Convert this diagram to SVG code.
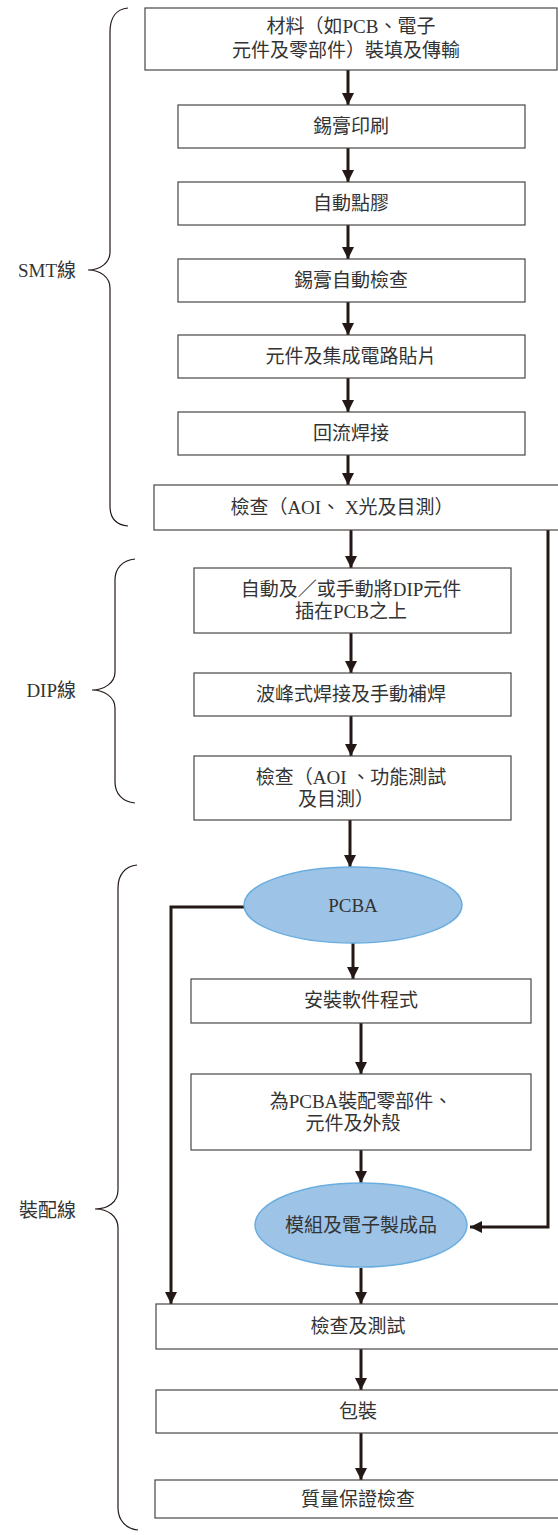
<svg xmlns="http://www.w3.org/2000/svg" width="558" height="1535" viewBox="0 0 558 1535">
<defs>
<marker id="ah" viewBox="0 0 10 10" refX="10" refY="5" markerWidth="4" markerHeight="4" orient="auto" markerUnits="strokeWidth">
<path d="M0,0 L10,5 L0,10 Z" fill="#231815"/>
</marker>
<style>
.box{fill:#fff;stroke:#4a4545;stroke-width:1.2}
.ell{fill:#9dc3e6;stroke:#6aaee0;stroke-width:1.5}
.t{font-family:"Liberation Serif","Noto Sans CJK TC",serif;font-size:19px;fill:#333;text-anchor:middle}
.lbl{font-family:"Liberation Serif","Noto Sans CJK TC",serif;font-size:19px;fill:#333;text-anchor:end}
.c{fill:none;stroke:#231815;stroke-width:3;marker-end:url(#ah)}
.br{fill:none;stroke:#231815;stroke-width:1.2}
</style>
</defs>
<rect width="558" height="1535" fill="#fff"/>
<g id="braces">
<path class="br" d="M128,8 C116,9 110,18 110,32 L110,252 C110,263 100,270 88,270 C100,270 110,277 110,288 L110,506 C110,518 116,525 128,526"/>
<text class="lbl" x="76" y="277">SMT線</text>
<path class="br" d="M135,559 C123,560 115,568 115,580 L115,672 C115,683 104,690 92,690 C104,690 115,697 115,708 L115,782 C115,794 123,802 135,803"/>
<text class="lbl" x="76" y="697">DIP線</text>
<path class="br" d="M137,865 C126,866 118,874 118,888 L118,1190 C118,1202 108,1209 95,1209 C108,1209 118,1216 118,1228 L118,1508 C118,1520 126,1529 138,1530"/>
<text class="lbl" x="76" y="1217">裝配線</text>
</g>
<g id="connectors">
<line class="c" x1="348" y1="70" x2="348" y2="105"/>
<line class="c" x1="348" y1="148" x2="348" y2="182"/>
<line class="c" x1="348" y1="225" x2="348" y2="259"/>
<line class="c" x1="348" y1="302" x2="348" y2="335"/>
<line class="c" x1="348" y1="378" x2="348" y2="412"/>
<line class="c" x1="348" y1="455" x2="348" y2="485"/>
<line class="c" x1="351" y1="530" x2="351" y2="568"/>
<line class="c" x1="351" y1="633" x2="351" y2="673"/>
<line class="c" x1="351" y1="716" x2="351" y2="756"/>
<line class="c" x1="350" y1="820" x2="350" y2="867"/>
<line class="c" x1="353" y1="943" x2="353" y2="979"/>
<line class="c" x1="361" y1="1023" x2="361" y2="1074"/>
<line class="c" x1="361" y1="1150" x2="361" y2="1183"/>
<line class="c" x1="361" y1="1268" x2="361" y2="1304"/>
<line class="c" x1="361" y1="1349" x2="361" y2="1390"/>
<line class="c" x1="361" y1="1433" x2="361" y2="1480"/>
<polyline class="c" points="244,907 171,907 171,1304"/>
<polyline class="c" points="548,530 548,1227 470,1227"/>
</g>
<g id="n1"><rect class="box" x="145" y="8" width="412" height="62"/><text class="t" x="351" y="33">材料（如PCB、電子</text><text class="t" x="346" y="57">元件及零部件）裝填及傳輸</text></g>
<g id="n2"><rect class="box" x="178" y="105" width="347" height="43"/><text class="t" x="351" y="133">錫膏印刷</text></g>
<g id="n3"><rect class="box" x="178" y="182" width="347" height="43"/><text class="t" x="351" y="210">自動點膠</text></g>
<g id="n4"><rect class="box" x="178" y="259" width="347" height="43"/><text class="t" x="351" y="287">錫膏自動檢查</text></g>
<g id="n5"><rect class="box" x="178" y="335" width="347" height="43"/><text class="t" x="351" y="363">元件及集成電路貼片</text></g>
<g id="n6"><rect class="box" x="178" y="412" width="347" height="43"/><text class="t" x="351" y="440">回流焊接</text></g>
<g id="n7"><rect class="box" x="154" y="485" width="410" height="45"/><text class="t" x="342" y="514">檢查（AOI、 X光及目測）</text></g>
<g id="n8"><rect class="box" x="194" y="568" width="317" height="65"/><text class="t" x="351" y="596">自動及／或手動將DIP元件</text><text class="t" x="351" y="618">插在PCB之上</text></g>
<g id="n9"><rect class="box" x="194" y="673" width="317" height="43"/><text class="t" x="351" y="701">波峰式焊接及手動補焊</text></g>
<g id="n10"><rect class="box" x="194" y="756" width="317" height="64"/><text class="t" x="351" y="784">檢查（AOI 、功能測試</text><text class="t" x="336" y="806">及目測）</text></g>
<g id="n11"><ellipse class="ell" cx="353" cy="905" rx="109" ry="38"/><text class="t" x="353" y="912">PCBA</text></g>
<g id="n12"><rect class="box" x="191" y="979" width="340" height="44"/><text class="t" x="361" y="1007">安裝軟件程式</text></g>
<g id="n13"><rect class="box" x="191" y="1074" width="340" height="76"/><text class="t" x="361" y="1108">為PCBA裝配零部件、</text><text class="t" x="353" y="1130">元件及外殼</text></g>
<g id="n14"><ellipse class="ell" cx="361" cy="1225" rx="106" ry="42"/><text class="t" x="361" y="1232">模組及電子製成品</text></g>
<g id="n15"><rect class="box" x="156" y="1304" width="410" height="45"/><text class="t" x="358" y="1333">檢查及測試</text></g>
<g id="n16"><rect class="box" x="156" y="1390" width="410" height="43"/><text class="t" x="358" y="1418">包裝</text></g>
<g id="n17"><rect class="box" x="155" y="1480" width="410" height="38"/><text class="t" x="358" y="1506">質量保證檢查</text></g>
</svg>
